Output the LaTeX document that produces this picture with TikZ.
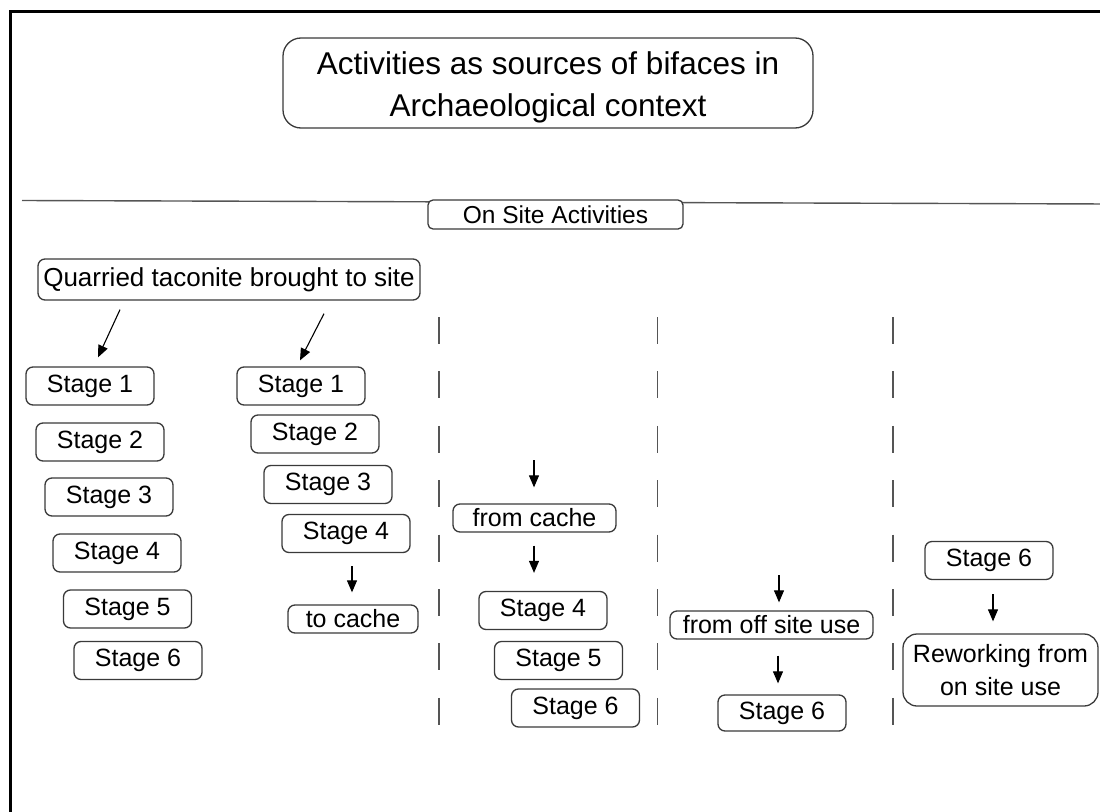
\documentclass[tikz,border=0pt]{standalone}
\usepackage{fontspec}
\setmainfont{Liberation Sans}
\usetikzlibrary{arrows.meta,calc}
\definecolor{boxgray}{HTML}{3A3A3A}
\definecolor{divgray}{HTML}{555555}
\begin{document}
\begin{tikzpicture}[x=1pt,y=-1pt,
  box/.style={draw=boxgray,line width=1.3pt,rounded corners=7pt,fill=white,
    inner sep=0pt,align=center,font=\fontsize{25}{30}\selectfont},
  sz/.style 2 args={minimum width=#1pt,minimum height=#2pt},
  stagebox/.style={box,sz={128}{38}},
  smallbox/.style={box,minimum height=28pt},
  arr/.style={-{Triangle[length=12pt,width=10pt]},line width=1.1pt},
  divider/.style={draw=divgray,line width=1.4pt,dash pattern=on 27pt off 27.4pt}
]
\useasboundingbox (0,0) rectangle (1100,811);

% outer frame and section rule
\draw[line width=3pt] (10,830) -- (10,11) -- (1120,11);
\draw[line width=1.4pt,draw=divgray] (22,200.5) -- (1110,204);

% heading
\node[box,sz={530}{90},rounded corners=18pt,font=\fontsize{31.5}{42}\selectfont]
  (title) at (548,83) {\rule{0pt}{31pt}Activities as sources of bifaces in\\Archaeological context};
\node[box,sz={255}{29},rounded corners=5pt,font=\fontsize{24.5}{29}\selectfont]
  (onsite) at (555.5,214.5) {On Site Activities};

% column dividers
\foreach \xx in {439,657.5,893}
  \draw[divider] (\xx,317) -- (\xx,725);

% source of raw material
\node[box,sz={382}{41},font=\fontsize{26}{30}\selectfont] (quarry) at (229,279.5) {Quarried taconite brought to site};

% first reduction sequence
\node[stagebox] (s1a) at (90,386)    {Stage 1};
\node[stagebox] (s2a) at (100,442)   {Stage 2};
\node[stagebox] (s3a) at (109,497)   {Stage 3};
\node[stagebox] (s4a) at (117,553)   {Stage 4};
\node[stagebox] (s5a) at (127.5,609) {Stage 5};
\node[stagebox] (s6a) at (138,660.5) {Stage 6};

% second reduction sequence, ending in a cache
\node[stagebox] (s1b) at (301,386)   {Stage 1};
\node[stagebox] (s2b) at (315,434)   {Stage 2};
\node[stagebox] (s3b) at (328,484.5) {Stage 3};
\node[stagebox] (s4b) at (346,533.5) {Stage 4};
\node[smallbox,minimum width=130pt] (tocache) at (353,619) {to cache};

% material retrieved from a cache
\coordinate (cachein) at (534,460);
\node[smallbox,minimum width=163pt] (fromcache) at (534.5,518) {from cache};
\node[stagebox] (s4c) at (543,610.5)   {Stage 4};
\node[stagebox] (s5c) at (558.5,660.5) {Stage 5};
\node[stagebox] (s6c) at (575.5,708)   {Stage 6};

% material returned from off site use
\coordinate (offin) at (779,575);
\node[smallbox,minimum width=203pt] (fromoff) at (771.5,625) {from off site use};
\node[stagebox,minimum height=36pt] (s6d) at (782,713) {Stage 6};

% reworking of on site tools
\node[stagebox] (s6e) at (989,560.5) {Stage 6};
\node[box,sz={195}{72},rounded corners=14pt,font=\fontsize{25}{33}\selectfont]
  (rework) at (1000.5,670) {Reworking from\\on site use};

% connectors
\draw[arr] ([xshift=-109pt,yshift=-9pt]quarry.south) -- ([xshift=8pt,yshift=9pt]s1a.north);
\draw[arr] ([xshift=95pt,yshift=-13pt]quarry.south) -- ([xshift=-1pt,yshift=6pt]s1b.north);
\draw[arr,shorten <=13pt,shorten >=12pt] ([xshift=6pt]s4b.south) -- ([xshift=6pt]s4b.south |- tocache.north);
\draw[arr,shorten >=16pt] (cachein) -- (cachein |- fromcache.north);
\draw[arr,shorten <=13pt,shorten >=18pt] (cachein |- fromcache.south) -- (cachein |- s4c.north);
\draw[arr,shorten >=8pt] (offin) -- (offin |- fromoff.north);
\draw[arr,shorten <=16pt,shorten >=11pt] ([xshift=-1pt]offin |- fromoff.south) -- ([xshift=-1pt]offin |- s6d.north);
\draw[arr,shorten <=14pt,shorten >=12pt] ([xshift=4pt]s6e.south) -- ([xshift=4pt]s6e.south |- rework.north);
\end{tikzpicture}
\end{document}
